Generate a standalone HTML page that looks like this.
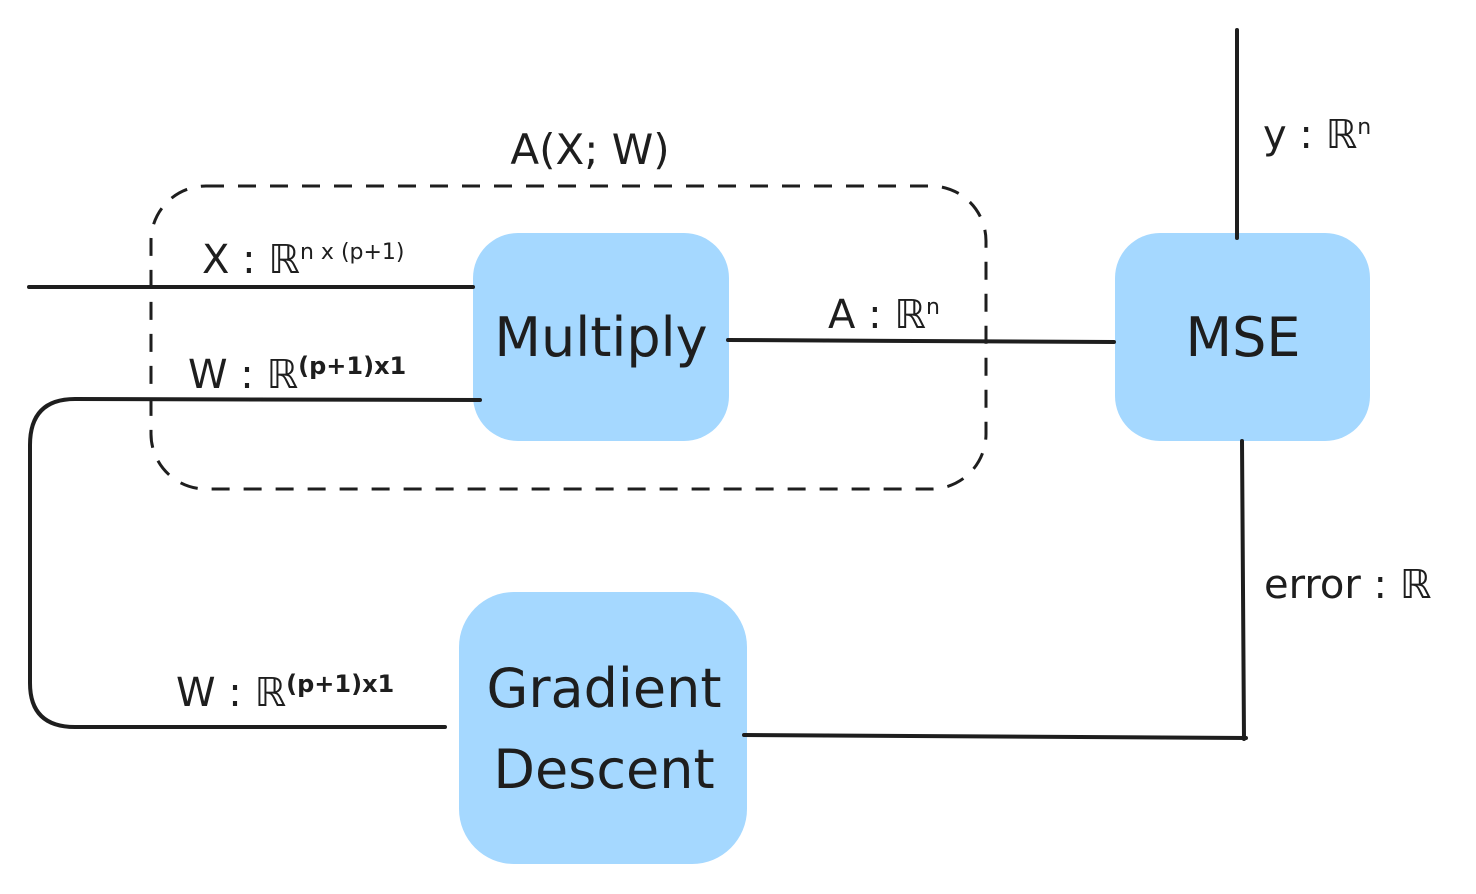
<!DOCTYPE html>
<html><head><meta charset="utf-8"><style>
html,body{margin:0;padding:0;background:#fff;width:1476px;height:894px;overflow:hidden}
text{font-family:"DejaVu Sans","Liberation Sans",sans-serif;fill:#1e1e1e}
</style></head><body>
<svg width="1476" height="894" viewBox="0 0 1476 894" xmlns="http://www.w3.org/2000/svg">
<rect x="151" y="186" width="835" height="303" rx="55" fill="none" stroke="#1e1e1e" stroke-width="3" stroke-dasharray="18,14"/>
<rect x="473" y="233" width="256" height="208" rx="45" fill="#a5d8ff"/>
<rect x="1115" y="233" width="255" height="208" rx="45" fill="#a5d8ff"/>
<rect x="459" y="592" width="288" height="272" rx="55" fill="#a5d8ff"/>
<g stroke="#1e1e1e" stroke-width="4" fill="none" stroke-linecap="round">
<line x1="29" y1="287" x2="473" y2="287"/>
<path d="M480 400 L75 399 Q30 399 30 445 L30 683 Q30 727 75 727 L445 727"/>
<line x1="728" y1="340" x2="1114" y2="342"/>
<line x1="1237" y1="30" x2="1237" y2="238"/>
<line x1="1242" y1="441" x2="1244" y2="739"/>
<line x1="744" y1="735" x2="1246" y2="738"/>
</g>
<text x="590" y="164" font-size="42" text-anchor="middle">A(X; W)</text>
<text x="601" y="356" font-size="54" text-anchor="middle">Multiply</text>
<text x="1243" y="356" font-size="54" text-anchor="middle">MSE</text>
<text x="604" y="707" font-size="54" text-anchor="middle">Gradient</text>
<text x="604" y="788" font-size="54" text-anchor="middle">Descent</text>
<text x="202" y="273" font-size="40">X : ℝ<tspan font-size="22" dy="-14">n  x  (p+1)</tspan></text>
<text x="188" y="388" font-size="40">W : ℝ<tspan font-size="24" dy="-14" font-weight="bold">(p+1)x1</tspan></text>
<text x="176" y="706" font-size="40">W : ℝ<tspan font-size="24" dy="-14" font-weight="bold">(p+1)x1</tspan></text>
<text x="828" y="328" font-size="40">A : ℝ<tspan font-size="22" dy="-14">n</tspan></text>
<text x="1263" y="148" font-size="40">y : ℝ<tspan font-size="22" dy="-14">n</tspan></text>
<text x="1264" y="598" font-size="40">error : ℝ</text>
</svg>
</body></html>
